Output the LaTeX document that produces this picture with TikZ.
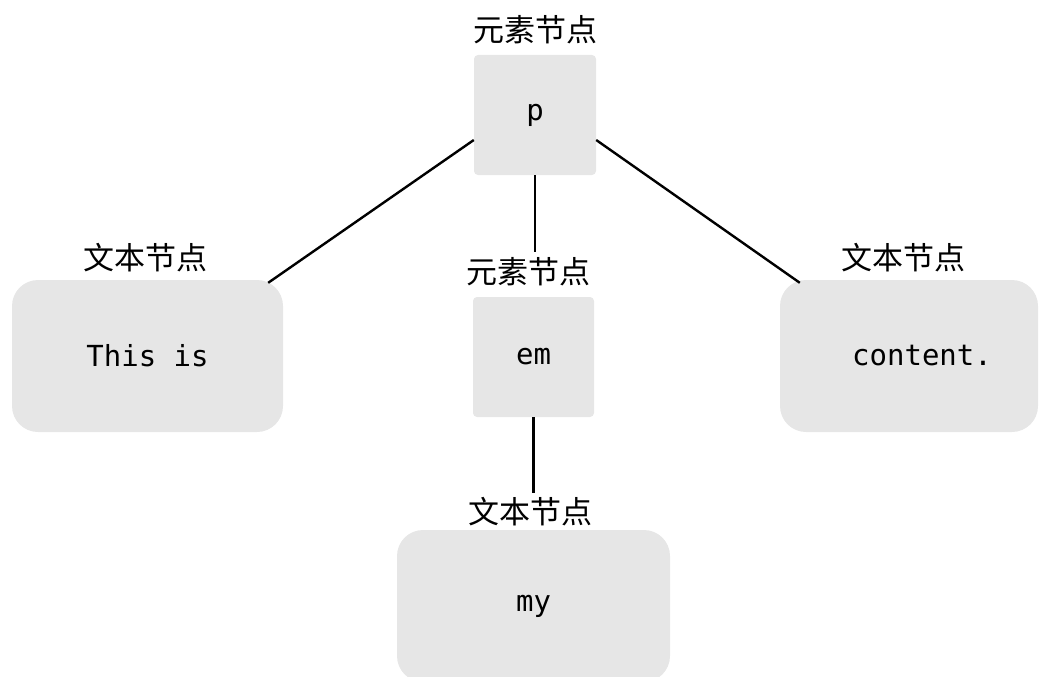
\documentclass[tikz,border=0pt]{standalone}
\usepackage{fontspec}
\setmonofont{DejaVu Sans Mono}
\newfontfamily\cjk{Noto Sans CJK SC}
\definecolor{boxgray}{HTML}{E6E6E6}
\begin{document}
\begin{tikzpicture}[x=1pt,y=-1pt,
  elem/.style={fill=boxgray,rounded corners=4pt,inner sep=0pt,font=\ttfamily\fontsize{29}{31}\selectfont},
  textbox/.style={fill=boxgray,rounded corners=26pt,inner sep=0pt,font=\ttfamily\fontsize{29}{31}\selectfont},
  capl/.style={font=\cjk\fontsize{31}{33}\selectfont,inner sep=0pt},
  link/.style={line width=2.4pt,black}]
\clip (0,0) rectangle (1039,677);
\useasboundingbox (0,0) rectangle (1039,677);
% nodes
\node[elem,minimum width=122pt,minimum height=120pt] (p) at (535,115) {p};
\node[elem,minimum width=121pt,minimum height=120pt] (em) at (533.5,357) {em};
\node[textbox,minimum width=271pt,minimum height=152pt] (lb) at (147.5,356) {This is};
\node[textbox,minimum width=258pt,minimum height=152pt] (rb) at (909,356) {};
\node[font=\ttfamily\fontsize{29}{31}\selectfont,inner sep=0pt] (rt) at (922,356) {content.};
\node[textbox,minimum width=273pt,minimum height=152pt] (my) at (533.5,606) {my};
% labels
\node[capl] (pl) at (535,30) {元素节点};
\node[capl] (eml) at (528,272) {元素节点};
\node[capl] (lbl) at (145,258) {文本节点};
\node[capl] (rbl) at (903,258) {文本节点};
\node[capl] (myl) at (530,512) {文本节点};
% connectors
\draw[link] ([yshift=-25pt]p.west) -- ([xshift=-15pt,yshift=-3pt]lb.north east);
\draw[link] ([yshift=-25pt]p.east) -- ([xshift=20pt,yshift=-3pt]rb.north west);
\draw[link] (p.south) -- ([yshift=6pt]p.south |- eml.north);
\draw[link] (em.south) -- ([yshift=4pt]em.south |- myl.north);
\end{tikzpicture}
\end{document}
